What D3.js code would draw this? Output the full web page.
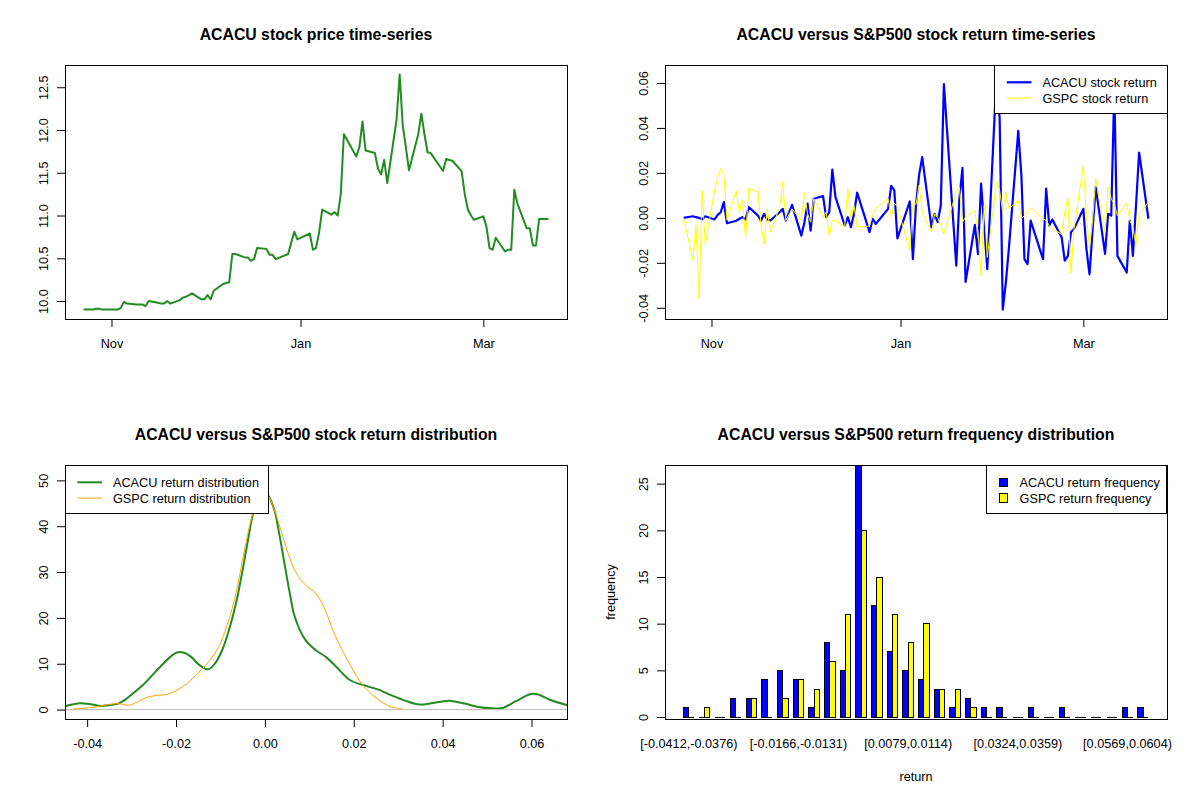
<!DOCTYPE html>
<meta charset="utf-8">
<style>
  body { margin: 0; background: #fff; }
  text { font-family: "Liberation Sans", Arial, sans-serif; }
</style>
<div id="my_dataviz"></div>
<script src="https://d3js.org/d3.v7.min.js"></script>
<script>

// trading days shown on the two time-series panels
var dates = [
  "2020-10-23","2020-10-26","2020-10-27","2020-10-28","2020-10-29","2020-10-30",
  "2020-11-02","2020-11-03","2020-11-04","2020-11-05","2020-11-06","2020-11-09","2020-11-10",
  "2020-11-11","2020-11-12","2020-11-13","2020-11-16","2020-11-17","2020-11-18","2020-11-19",
  "2020-11-20","2020-11-23","2020-11-24","2020-11-25","2020-11-27","2020-11-30",
  "2020-12-01","2020-12-02","2020-12-03","2020-12-04","2020-12-07","2020-12-08","2020-12-09",
  "2020-12-10","2020-12-11","2020-12-14","2020-12-15","2020-12-16","2020-12-17","2020-12-18",
  "2020-12-21","2020-12-22","2020-12-23","2020-12-24","2020-12-28","2020-12-29","2020-12-30",
  "2020-12-31",
  "2021-01-04","2021-01-05","2021-01-06","2021-01-07","2021-01-08","2021-01-11","2021-01-12",
  "2021-01-13","2021-01-14","2021-01-15","2021-01-19","2021-01-20","2021-01-21","2021-01-22",
  "2021-01-25","2021-01-26","2021-01-27","2021-01-28","2021-01-29",
  "2021-02-01","2021-02-02","2021-02-03","2021-02-04","2021-02-05","2021-02-08","2021-02-09",
  "2021-02-10","2021-02-11","2021-02-12","2021-02-16","2021-02-17","2021-02-18","2021-02-19",
  "2021-02-22","2021-02-23","2021-02-24","2021-02-25","2021-02-26",
  "2021-03-01","2021-03-02","2021-03-03","2021-03-04","2021-03-05","2021-03-08","2021-03-09",
  "2021-03-10","2021-03-11","2021-03-12","2021-03-15","2021-03-16","2021-03-17","2021-03-18",
  "2021-03-19","2021-03-22"
];

var acacuPrice = [
  9.90, 9.90, 9.91, 9.91, 9.90, 9.90,
  9.90, 9.90, 9.92, 9.99, 9.97, 9.96, 9.96, 9.96, 9.94, 10.00,
  9.98, 9.97, 9.97, 10.00, 9.97, 10.01, 10.04, 10.05, 10.09, 10.02,
  10.02, 10.07, 10.02, 10.12, 10.20, 10.21, 10.22, 10.55, 10.55, 10.51, 10.51,
  10.47, 10.49, 10.62, 10.61, 10.54, 10.54, 10.49, 10.55, 10.68, 10.81, 10.72,
  10.79, 10.60, 10.62, 10.80, 11.07, 11.01, 11.04, 11.00, 11.25, 11.95,
  11.69, 11.80, 12.10, 11.76, 11.73, 11.55, 11.48, 11.65, 11.38,
  12.12, 12.65, 12.05, 11.80, 11.53, 11.95, 12.19, 11.95, 11.74, 11.73,
  11.52, 11.66, 11.65, 11.64, 11.52, 11.25, 11.07, 11.00, 10.95,
  10.99, 10.87, 10.62, 10.60, 10.74, 10.58, 10.60, 10.60, 11.30, 11.14,
  10.85, 10.85, 10.65, 10.65, 10.96, 10.96
];

var acacuReturn = [
  0, 0.0007, 0.0003, 0, -0.0007, 0.0007,
  -0.0007, 0.0013, 0.0025, 0.0070, -0.0024, -0.0013, -0.0004, 0.0003, -0.0007, 0.0048,
  0.0010, -0.0012, 0.0018, -0.0007, -0.0012, 0.0025, 0.0040, -0.0012, 0.0058, -0.0079,
  -0.0019, 0.0063, -0.0057, 0.0085, 0.0097, 0.0003, 0.0025, 0.0215, 0.0093, -0.0034, 0.0003,
  -0.0042, 0.0018, 0.0112, -0.0019, -0.0064, -0.0004, -0.0027, 0.0040, 0.0142, 0.0122, -0.0091,
  0.0073, -0.0184, 0.0060, 0.0190, 0.0270, -0.0042, 0.0018, -0.0019, 0.0055, 0.0595,
  -0.0213, 0.0085, 0.0222, -0.0285, -0.0031, -0.0161, 0.0152, -0.0034, -0.0228,
  0.0638, 0.0440, -0.0408, -0.0288, -0.0131, 0.0387, 0.0190, -0.0184, -0.0206, -0.0012,
  -0.0184, 0.0130, -0.0034, -0.0007, -0.0087, -0.0190, -0.0170, -0.0064, -0.0049,
  0.0040, -0.0139, -0.0251, -0.0050, 0.0137, -0.0160, 0.0018, 0.0010, 0.0580, -0.0169,
  -0.0243, -0.0012, -0.0169, 0.0055, 0.0290, -0.0004
];

var gspcReturn = [
  0, -0.0190, -0.0030, -0.0360, 0.0120, -0.0120,
  0.0120, 0.0180, 0.0220, 0.0190, -0.0010, 0.0120, 0.0025, 0.0080, -0.0094, 0.0130,
  0.0115, -0.0034, -0.0116, 0.0040, -0.0064, 0.0048, 0.0160, -0.0012, 0.0040, -0.0012,
  0.0112, 0.0018, -0.0019, 0.0085, 0.0003, 0.0025, -0.0080, -0.0012, -0.0012, -0.0039, 0.0130,
  -0.0004, 0.0055, -0.0039, -0.0039, -0.0034, 0.0010, 0.0043, 0.0085, 0.0003, 0.0065, 0.0050,
  -0.0146, 0.0070, 0.0060, 0.0145, 0.0025, -0.0064, 0.0018, 0.0000, -0.0034, -0.0072,
  0.0115, 0.0137, -0.0019, 0.0003, 0.0033, -0.0060, -0.0258, 0.0055, -0.0176,
  0.0160, 0.0122, 0.0025, 0.0115, 0.0040, 0.0078, -0.0004, 0.0010, 0.0030, 0.0045,
  -0.0004, -0.0012, -0.0034, -0.0049, -0.0072, 0.0025, 0.0093, -0.0246, -0.0049,
  0.0234, 0.0010, -0.0131, -0.0012, 0.0175, -0.0064, 0.0137, 0.0085, 0.0060, 0.0010,
  0.0067, -0.0012, -0.0040, -0.0124, 0.0018, 0.0070
];

var acacuDensityX = [-0.0451, -0.0431, -0.0416, -0.0392, -0.0369, -0.0353, -0.0330, -0.0314,
  -0.0291, -0.0275, -0.0260, -0.0236, -0.0213, -0.0198, -0.0182, -0.0166, -0.0147, -0.0127,
  -0.0112, -0.0096, -0.0081, -0.0065, -0.0050, -0.0038, -0.0026, -0.0011, 0.0005, 0.0021,
  0.0032, 0.0044, 0.0056, 0.0067, 0.0091, 0.0114, 0.0137, 0.0161, 0.0192, 0.0223, 0.0254,
  0.0285, 0.0317, 0.0348, 0.0379, 0.0418, 0.0449, 0.0480, 0.0511, 0.0535, 0.0566, 0.0597,
  0.0613, 0.0644, 0.0681];
var acacuDensity = [0.73, 1.17, 1.38, 1.17, 0.80, 0.95, 1.31, 2.19,
  4.0, 5.3, 6.8, 9.3, 11.5, 12.46, 12.4, 11.5, 9.7, 8.8,
  10.1, 13.0, 17.3, 23.2, 30.5, 37.0, 42.9, 46.5, 46.9, 43.6,
  38.5, 31.9, 25.4, 20.3, 15.2, 13.0, 11.5, 9.3, 6.4, 5.3, 4.4,
  3.1, 1.9, 1.1, 1.46, 1.9, 1.31, 0.58, 0.29, 0.36, 1.9, 3.35,
  3.35, 2.04, 0.95];

var gspcDensityX = [-0.0431, -0.0392, -0.0353, -0.0330, -0.0307, -0.0291, -0.0268, -0.0244,
  -0.0221, -0.0198, -0.0174, -0.0151, -0.0127, -0.0104, -0.0085, -0.0065, -0.0046, -0.0026,
  -0.0007, 0.0005, 0.0021, 0.0036, 0.0052, 0.0071, 0.0091, 0.0114, 0.0134, 0.0153, 0.0172,
  0.0192, 0.0215, 0.0239, 0.0262, 0.0285, 0.0309];
var gspcDensity = [0.15, 0.44, 1.1, 1.3, 0.95, 1.46, 2.6, 3.1,
  3.3, 4.2, 5.8, 7.9, 10.4, 13.7, 18.4, 25.4, 34.8, 42.9,
  46.5, 46.9, 43.6, 39.2, 34.1, 29.7, 27.2, 25.4, 22.1, 17.3, 13.3,
  9.7, 6.0, 3.5, 1.7, 0.58, 0.15];
var densityYLim = [0, 51.3];

// frequency of returns in 30 equal-width bins
var acacuFreq = [1, 0, 0, 2, 2, 4, 5, 4, 1, 8, 5, 27, 12, 7, 5, 4, 3, 1, 2, 1, 1, 0, 1, 0, 1, 0, 0, 0, 1, 1];
var gspcFreq  = [0, 1, 0, 0, 2, 0, 2, 4, 3, 6, 11, 20, 15, 11, 8, 10, 3, 3, 1, 0, 0, 0, 0, 0, 0, 0, 0, 0, 0, 0];
var binLabels = ["[-0.0412,-0.0376)", "[-0.0166,-0.0131)", "[0.0079,0.0114)", "[0.0324,0.0359)", "[0.0569,0.0604)"];
var binLabelIndex = [0, 7, 14, 21, 28];


// layout, R style: each panel 600x400, mar = 5.1 4.1 4.1 2.1 lines
var margin = {top: 65, right: 33, bottom: 81, left: 65},
    width = 600 - margin.left - margin.right,
    height = 400 - margin.top - margin.bottom;
var fontSize = 12.7;
var fontFamily = "'Liberation Sans', Arial, sans-serif";

var svg = d3.select("#my_dataviz")
  .append("svg")
    .attr("width", 1200)
    .attr("height", 800);

var parseDate = d3.timeParse("%Y-%m-%d");
var days = dates.map(parseDate);

// R pads axis ranges by 4% on each side
function rpad(ext) {
  var lo = +ext[0], hi = +ext[1];
  var d = (hi - lo) * 0.04;
  return [lo - d, hi + d];
}

function makePanel(col, row, title, id) {
  var g = svg.append("g")
    .attr("transform", "translate(" + (col * 600 + margin.left) + "," + (row * 400 + margin.top) + ")");
  g.append("clipPath").attr("id", "clip" + id)
    .append("rect").attr("width", width).attr("height", height);
  svg.append("text")
    .attr("x", col * 600 + margin.left + width / 2)
    .attr("y", row * 400 + 39.5)
    .attr("text-anchor", "middle")
    .style("font-size", "15.8px")
    .style("font-weight", "bold")
    .text(title);
  return g;
}

function bottomAxis(g, scale, ticks, fmt) {
  var ax = g.append("g")
    .attr("transform", "translate(0," + height + ")")
    .call(d3.axisBottom(scale).tickValues(ticks).tickFormat(fmt).tickSize(8).tickSizeOuter(0));
  ax.select(".domain").remove();
  ax.selectAll("line").attr("stroke", "#000");
  ax.selectAll("text")
    .attr("y", 28.5).attr("dy", null)
    .attr("fill", "#000")
    .style("font-size", fontSize + "px")
    .style("font-family", fontFamily);
  return ax;
}

function leftAxis(g, scale, ticks, fmt) {
  var ax = g.append("g")
    .call(d3.axisLeft(scale).tickValues(ticks).tickFormat(fmt).tickSize(8).tickSizeOuter(0));
  ax.select(".domain").remove();
  ax.selectAll("line").attr("stroke", "#000");
  ax.selectAll("text")
    .attr("x", 0).attr("dy", null)
    .attr("text-anchor", "middle")
    .attr("transform", "translate(-17,0) rotate(-90)")
    .attr("fill", "#000")
    .style("font-size", fontSize + "px")
    .style("font-family", fontFamily);
  return ax;
}

function box(g) {
  g.append("rect")
    .attr("width", width).attr("height", height)
    .attr("fill", "none").attr("stroke", "#000")
    .attr("shape-rendering", "crispEdges");
}

// legend with white background, R "topleft"/"topright"
function legend(g, x0, w, items) {
  var lg = g.append("g").attr("transform", "translate(" + x0 + ",0)");
  lg.append("rect")
    .attr("width", w).attr("height", 48)
    .attr("fill", "#fff").attr("stroke", "#000")
    .attr("shape-rendering", "crispEdges");
  items.forEach(function(it, i) {
    var cy = 17.3 + i * 15.8;
    if (it.fill) {
      lg.append("rect")
        .attr("x", 12.3).attr("y", cy - 4.2)
        .attr("width", 8.5).attr("height", 8.5)
        .attr("fill", it.fill).attr("stroke", "#000")
        .attr("shape-rendering", "crispEdges");
      lg.append("text").attr("x", 32.8).attr("y", cy).attr("dy", "0.35em")
        .style("font-size", fontSize + "px").text(it.label);
    } else {
      lg.append("line")
        .attr("x1", 12.3).attr("x2", 37)
        .attr("y1", cy).attr("y2", cy)
        .attr("stroke", it.color).attr("stroke-width", it.lw);
      lg.append("text").attr("x", 48).attr("y", cy).attr("dy", "0.35em")
        .style("font-size", fontSize + "px").text(it.label);
    }
  });
}

var monthTicks = [parseDate("2020-11-01"), parseDate("2021-01-01"), parseDate("2021-03-01")];
var x = d3.scaleTime()
  .domain(rpad(d3.extent(days)).map(function(t) { return new Date(t); }))
  .range([0, width]);


// ---------- panel 1: price time-series ----------
var p1 = makePanel(0, 0, "ACACU stock price time-series", 1);
var y1 = d3.scaleLinear()
  .domain(rpad(d3.extent(acacuPrice)))
  .range([height, 0]);

p1.append("path")
  .datum(acacuPrice)
  .attr("clip-path", "url(#clip1)")
  .attr("fill", "none")
  .attr("stroke", "#228B22")
  .attr("stroke-width", 2)
  .attr("stroke-linejoin", "round")
  .attr("d", d3.line()
    .x(function(d, i) { return x(days[i]); })
    .y(function(d) { return y1(d); }));

bottomAxis(p1, x, monthTicks, d3.timeFormat("%b"));
leftAxis(p1, y1, [10.0, 10.5, 11.0, 11.5, 12.0, 12.5], function(d) { return d.toFixed(1); });
box(p1);


// ---------- panel 2: return time-series ----------
var p2 = makePanel(1, 0, "ACACU versus S&P500 stock return time-series", 2);
var y2 = d3.scaleLinear()
  .domain(rpad(d3.extent(acacuReturn.concat(gspcReturn))))
  .range([height, 0]);

var retLine = d3.line()
  .x(function(d, i) { return x(days[i]); })
  .y(function(d) { return y2(d); });

p2.append("path")
  .datum(acacuReturn)
  .attr("clip-path", "url(#clip2)")
  .attr("fill", "none")
  .attr("stroke", "#0000FF")
  .attr("stroke-width", 2.2)
  .attr("stroke-linejoin", "round")
  .attr("d", retLine);

p2.append("path")
  .datum(gspcReturn)
  .attr("clip-path", "url(#clip2)")
  .attr("fill", "none")
  .attr("stroke", "#FFFF00")
  .attr("stroke-width", 1)
  .attr("d", retLine);

bottomAxis(p2, x, monthTicks, d3.timeFormat("%b"));
leftAxis(p2, y2, [-0.04, -0.02, 0, 0.02, 0.04, 0.06], function(d) { return d.toFixed(2); });
box(p2);
legend(p2, width - 172.5, 172.5, [
  {label: "ACACU stock return", color: "#0000FF", lw: 2.2},
  {label: "GSPC stock return", color: "#FFFF00", lw: 1}
]);


// ---------- panel 3: return densities ----------
var p3 = makePanel(0, 1, "ACACU versus S&P500 stock return distribution", 3);
var x3 = d3.scaleLinear()
  .domain(rpad(d3.extent(acacuReturn.concat(gspcReturn))))
  .range([0, width]);
var y3 = d3.scaleLinear()
  .domain(rpad(densityYLim))
  .range([height, 0]);

p3.append("path")
  .datum(acacuDensity)
  .attr("clip-path", "url(#clip3)")
  .attr("fill", "none")
  .attr("stroke", "#228B22")
  .attr("stroke-width", 2)
  .attr("d", d3.line()
    .curve(d3.curveCatmullRom)
    .x(function(d, i) { return x3(acacuDensityX[i]); })
    .y(function(d) { return y3(d); }));

p3.append("line")
  .attr("x1", 0).attr("x2", width)
  .attr("y1", y3(0)).attr("y2", y3(0))
  .attr("stroke", "#BEBEBE").attr("stroke-width", 1);

p3.append("path")
  .datum(gspcDensity)
  .attr("clip-path", "url(#clip3)")
  .attr("fill", "none")
  .attr("stroke", "#FFA500")
  .attr("stroke-width", 1)
  .attr("d", d3.line()
    .curve(d3.curveCatmullRom)
    .x(function(d, i) { return x3(gspcDensityX[i]); })
    .y(function(d) { return y3(d); }));

bottomAxis(p3, x3, [-0.04, -0.02, 0, 0.02, 0.04, 0.06], function(d) { return d.toFixed(2); });
leftAxis(p3, y3, [0, 10, 20, 30, 40, 50], function(d) { return d; });
box(p3);
legend(p3, 0, 203.7, [
  {label: "ACACU return distribution", color: "#228B22", lw: 2},
  {label: "GSPC return distribution", color: "#FFA500", lw: 1}
]);


// ---------- panel 4: side-by-side frequency bars ----------
var p4 = makePanel(1, 1, "ACACU versus S&P500 return frequency distribution", 4);
var groups = d3.range(acacuFreq.length);
// barplot(beside=TRUE): bar width 1, space 1 between groups, xlim padded 4%
var x4 = d3.scaleBand()
  .domain(groups)
  .range([0, width])
  .paddingInner(1 / 3)
  .paddingOuter(1.187);
var xSub = d3.scaleBand()
  .domain(["ACACU", "GSPC"])
  .range([0, x4.bandwidth()]);
var y4 = d3.scaleLinear()
  .domain([0, 27])
  .range([height - 2, 0]);

var barData = [];
groups.forEach(function(i) {
  barData.push({g: i, s: "ACACU", v: acacuFreq[i], c: "#0000FF"});
  barData.push({g: i, s: "GSPC", v: gspcFreq[i], c: "#FFFF00"});
});

p4.selectAll("path.bar")
  .data(barData)
  .enter()
  .append("path")
    .attr("class", "bar")
    .attr("fill", function(d) { return d.c; })
    .attr("stroke", "#000")
    .attr("stroke-width", 1)
    .attr("shape-rendering", "crispEdges")
    .attr("d", function(d) {
      var x0 = x4(d.g) + xSub(d.s), x1 = x0 + xSub.bandwidth();
      var yb = y4(0), yt = y4(d.v);
      return "M" + x0 + "," + yb + "H" + x1 + "V" + yt + "H" + x0 + "Z";
    });

p4.selectAll("text.binlab")
  .data(binLabelIndex)
  .enter()
  .append("text")
    .attr("class", "binlab")
    .attr("x", function(d) { return x4(d) + x4.bandwidth() / 2; })
    .attr("y", height + 28.5)
    .attr("text-anchor", "middle")
    .style("font-size", fontSize + "px")
    .text(function(d, i) { return binLabels[i]; });

leftAxis(p4, y4, [0, 5, 10, 15, 20, 25], function(d) { return d; });
box(p4);

p4.append("text")
  .attr("x", width / 2)
  .attr("y", height + 61.5)
  .attr("text-anchor", "middle")
  .style("font-size", fontSize + "px")
  .text("return");
p4.append("text")
  .attr("transform", "translate(-50.5," + (height / 2) + ") rotate(-90)")
  .attr("text-anchor", "middle")
  .style("font-size", fontSize + "px")
  .text("frequency");

legend(p4, width - 180.2, 180.2, [
  {label: "ACACU return frequency", fill: "#0000FF"},
  {label: "GSPC return frequency", fill: "#FFFF00"}
]);

</script>
